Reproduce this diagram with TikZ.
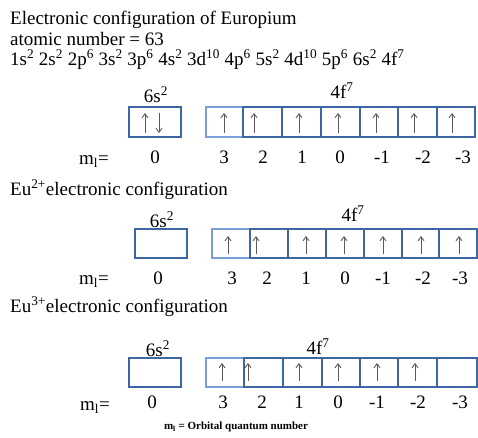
\documentclass[tikz,border=0pt]{standalone}
\usepackage{fontspec}
\setmainfont{Liberation Serif}
\usetikzlibrary{arrows.meta}
\definecolor{boxblue}{RGB}{62,102,160}
\definecolor{boxlight}{RGB}{120,160,210}
\definecolor{spingray}{RGB}{90,90,90}
\newcommand\su[1]{\textsuperscript{#1}}
\tikzset{
  txt/.style={inner sep=0pt, font=\fontsize{19}{21}\selectfont},
  lbl/.style={txt, anchor=base},
  cellbox/.style={draw=boxblue, line width=1.8pt},
  firstcell/.style={draw=boxlight, line width=1.8pt},
  spin/.style={draw=spingray, line width=0.9pt, -{Straight Barb[length=4pt,width=6pt]}},
}
\begin{document}
\begin{tikzpicture}[x=1pt,y=-1pt]
\useasboundingbox (0,0) rectangle (478,437);
% header
\node[txt, anchor=base west] (t1) at (10,24) {Electronic configuration of Europium};
\node[txt, anchor=base west] (t2) at (10,45) {atomic number = 63};
\node[txt, anchor=base west] (t3) at (10,65) {1s\su{2} 2s\su{2} 2p\su{6} 3s\su{2} 3p\su{6} 4s\su{2} 3d\su{10} 4p\su{6} 5s\su{2} 4d\su{10} 5p\su{6} 6s\su{2} 4f\su{7}};
% ---------- row 1
\node[lbl] (s1) at (156,102) {6s\su{2}};
\node[lbl] (f1) at (342,98) {4f\su{7}};
\draw[cellbox] (129,107) rectangle (181,137);
\draw[firstcell] (206,107) rectangle (243,137);
\foreach \a/\b in {243/282,282/321,321/360,360/398,398/437,437/475}
  \draw[cellbox] (\a,107) rectangle (\b,137);
\draw[spin] (145,133) -- (145,113);
\draw[spin] (159,113) -- (159,133);
\foreach \x in {224,254,299,338,376,414,452}
  \draw[spin] (\x,133) -- (\x,113);
\node[lbl] (m1) at (94,164) {m\textsubscript{l}=};
\foreach \x/\v [count=\i] in {155/0,224/3,263/2,302/1,340/0,382/-1,423/-2,463/-3}
  \node[lbl] (v1\i) at (\x,163) {\v};
% ---------- row 2
\node[txt, anchor=base west] (e2) at (10,195) {Eu\su{2+}electronic configuration};
\node[lbl] (s2) at (162,227) {6s\su{2}};
\node[lbl] (f2) at (353,221) {4f\su{7}};
\draw[cellbox] (135,229) rectangle (187,258);
\draw[firstcell] (212,229) rectangle (250,258);
\foreach \a/\b in {250/288,288/326,326/364,364/402,402/439,439/477}
  \draw[cellbox] (\a,229) rectangle (\b,258);
\foreach \x in {228,256,306,344,383,421,459}
  \draw[spin] (\x,254) -- (\x,236);
\node[lbl] (m2) at (94,284) {m\textsubscript{l}=};
\foreach \x/\v [count=\i] in {158/0,232/3,267/2,306/1,345/0,383/-1,423/-2,460/-3}
  \node[lbl] (v2\i) at (\x,284) {\v};
% ---------- row 3
\node[txt, anchor=base west] (e3) at (10,312) {Eu\su{3+}electronic configuration};
\node[lbl] (s3) at (158,356) {6s\su{2}};
\node[lbl] (f3) at (318,354) {4f\su{7}};
\draw[cellbox] (129,358) rectangle (181,387);
\draw[firstcell] (206,358) rectangle (244,387);
\foreach \a/\b in {244/283,283/322,322/360,360/398,398/437,437/477}
  \draw[cellbox] (\a,358) rectangle (\b,387);
\foreach \x in {222,248,299,338,377,415}
  \draw[spin] (\x,381) -- (\x,363);
\node[lbl] (m3) at (95,410) {m\textsubscript{l}=};
\foreach \x/\v [count=\i] in {152/0,223/3,262/2,299/1,338/0,377/-1,418/-2,460/-3}
  \node[lbl] (v3\i) at (\x,408) {\v};
\node[inner sep=0pt, font=\fontsize{11}{12}\selectfont\bfseries] (note) at (236,427) {m\textsubscript{l} = Orbital quantum number};
\end{tikzpicture}
\end{document}
